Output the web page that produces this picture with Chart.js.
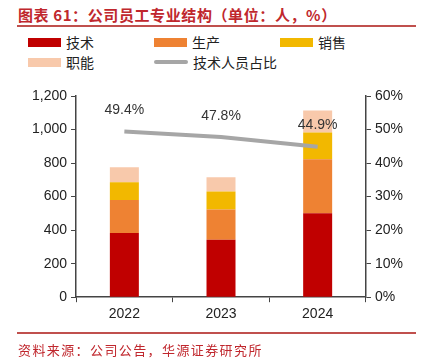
<!DOCTYPE html>
<html>
<head>
<meta charset="utf-8">
<script src="https://cdn.jsdelivr.net/npm/chart.js@4.4.1/dist/chart.umd.min.js"></script>
<style>
  html, body { margin: 0; padding: 0; background: #fff; }
  body { width: 425px; height: 363px; position: relative; overflow: hidden; font-family: "Noto Sans CJK SC", sans-serif; }
  .title { position: absolute; left: 18px; top: 4px; font-size: 15px; font-weight: 700; color: #c0272d; letter-spacing: 0.6px; white-space: nowrap; }
  .rule { position: absolute; left: 17px; width: 399px; height: 1.5px; background: #c0504d; }
  .source { position: absolute; left: 18px; top: 340px; font-size: 13px; color: #c0272d; letter-spacing: 1.4px; white-space: nowrap; }
  .legend { position: absolute; left: 0; top: 0; font-size: 14px; color: #222; }
  .item { position: absolute; display: flex; align-items: center; white-space: nowrap; }
  .sw { width: 33px; height: 9px; margin-right: 5px; }
  .ln { width: 34px; height: 4px; margin-right: 5px; border-radius: 2px; }
  #wrap { position: absolute; left: 0; top: 80px; width: 425px; height: 253px; }
</style>
</head>
<body>
<div class="title">图表 61：公司员工专业结构（单位：人，%）</div>
<div class="rule" style="top:25px"></div>
<div class="legend" id="legend"></div>
<div id="wrap"><canvas id="chart"></canvas></div>
<div class="rule" style="top:332px"></div>
<div class="source">资料来源：公司公告，华源证券研究所</div>
<script>
document.addEventListener('DOMContentLoaded', () => {

  const years = ['2022', '2023', '2024'];
  const tech = [383, 342, 500];
  const production = [196, 181, 323];
  const sales = [106, 107, 160];
  const functional = [90, 85, 130];
  const techShare = [49.4, 47.8, 44.9];

  const barNames = ['技术', '生产', '销售', '职能'];
  const barColors = ['#c00000', '#ee8233', '#f2b800', '#f8c9ab'];
  const lineName = '技术人员占比';
  const lineColor = '#a6a6a6';

  // legend, laid out like the original (3 columns)
  const legend = document.getElementById('legend');
  const slots = [[28, 42], [154, 42], [280, 42], [28, 62]];
  barNames.forEach((name, i) => {
    const d = document.createElement('div');
    d.className = 'item';
    d.style.left = slots[i][0] + 'px';
    d.style.top = (slots[i][1] - 10) + 'px';
    d.innerHTML = `<span class="sw" style="background:${barColors[i]}"></span>${name}`;
    legend.appendChild(d);
  });
  const li = document.createElement('div');
  li.className = 'item';
  li.style.left = '154px';
  li.style.top = '52px';
  li.innerHTML = `<span class="ln" style="background:${lineColor}"></span>${lineName}`;
  legend.appendChild(li);

  const pointLabels = {
    id: 'pointLabels',
    afterDatasetsDraw(chart) {
      const meta = chart.getDatasetMeta(4);
      const c = chart.ctx;
      c.save();
      c.font = '14px "Liberation Sans", Arial, sans-serif';
      c.fillStyle = '#333';
      c.textAlign = 'center';
      c.textBaseline = 'middle';
      meta.data.forEach((pt, i) => {
        c.fillText(techShare[i].toFixed(1) + '%', pt.x, pt.y - 21);
      });
      c.restore();
    }
  };

  const bars = [tech, production, sales, functional].map((data, i) => ({
    type: 'bar',
    label: barNames[i],
    data,
    backgroundColor: barColors[i],
    yAxisID: 'y',
    stack: 'staff',
    order: 1,
    barPercentage: 0.3,
    categoryPercentage: 1
  }));

  const tickFont = { family: '"Liberation Sans", Arial, sans-serif', size: 14 };
  const axisColor = '#444';

  new Chart(document.getElementById('chart').getContext('2d'), {
    data: {
      labels: years,
      datasets: [...bars, {
        type: 'line',
        label: lineName,
        data: techShare,
        borderColor: lineColor,
        borderWidth: 4,
        pointRadius: 0,
        yAxisID: 'y1',
        order: 0
      }]
    },
    options: {
      responsive: true,
      maintainAspectRatio: false,
      animation: false,
      layout: { padding: { left: 28, right: 18, top: 16, bottom: 6 } },
      plugins: { legend: { display: false }, tooltip: { enabled: false } },
      scales: {
        x: {
          stacked: true,
          offset: true,
          grid: { offset: true, drawOnChartArea: false, tickLength: 5, color: axisColor },
          border: { color: axisColor, width: 1.5 },
          ticks: { font: tickFont, color: '#222', padding: 4 }
        },
        y: {
          stacked: true,
          position: 'left',
          min: 0, max: 1200,
          grid: { drawOnChartArea: false, tickLength: 5, color: axisColor },
          border: { color: axisColor, width: 1.5 },
          ticks: { stepSize: 200, font: tickFont, color: '#222', padding: 4,
                   callback: v => v.toLocaleString('en-US') }
        },
        y1: {
          position: 'right',
          min: 0, max: 60,
          grid: { drawOnChartArea: false, tickLength: 5, color: axisColor },
          border: { color: axisColor, width: 1.5 },
          ticks: { stepSize: 10, font: tickFont, color: '#222', padding: 4,
                   callback: v => v + '%' }
        }
      }
    },
    plugins: [pointLabels]
  });

});
</script>
</body>
</html>
